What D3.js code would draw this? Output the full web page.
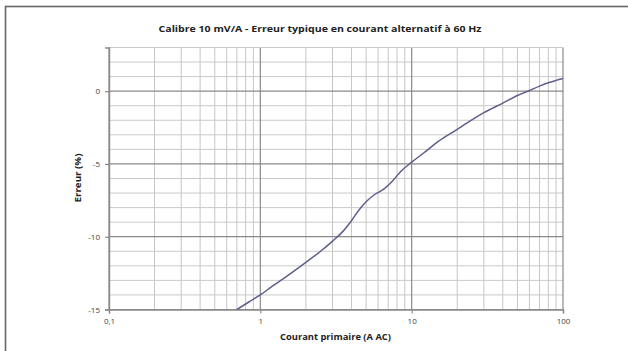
<!DOCTYPE html>
<html>
<head>
<meta charset="utf-8">
<script src="https://cdn.jsdelivr.net/npm/d3@7"></script>
<style>
html,body{margin:0;padding:0;background:#fff;}
svg{display:block;}
</style>
</head>
<body>
<svg id="chart" width="628" height="351"></svg>
<script>
// Data
const current = [0.7, 0.85, 1, 1.2, 1.5, 2, 2.5, 3, 3.5, 4, 4.5, 5, 5.7, 6.5, 7.5, 8.5, 10, 12, 15, 20, 25, 30, 40, 50, 60, 70, 80, 90, 100];
const errorPct = [-15, -14.45, -14.0, -13.4, -12.7, -11.76, -11.0, -10.3, -9.65, -8.9, -8.15, -7.6, -7.1, -6.75, -6.15, -5.5, -4.88, -4.25, -3.45, -2.62, -1.97, -1.48, -0.82, -0.3, 0.05, 0.35, 0.58, 0.74, 0.87];
const xTickValues = [0.1, 1, 10, 100];
const xTickLabels = ["0,1", "1", "10", "100"];
const yTickValues = [0, -5, -10, -15];
const yTickLabels = ["0", "-5", "-10", "-15"];
const titleText = "Calibre 10 mV/A - Erreur typique en courant alternatif à 60 Hz";
const xTitle = "Courant primaire (A AC)";
const yTitle = "Erreur (%)";

const svg = d3.select("#chart");
const font = "'Open Sans', 'Liberation Sans', sans-serif";

// outer chart border (extends past the window)
svg.append("rect").attr("x", 5.5).attr("y", 6.5).attr("width", 640).attr("height", 360)
  .attr("fill", "none").attr("stroke", "#666").attr("stroke-width", 1.6);

const L = 109, R = 563, T = 47.5, B = 309.5;
const x = d3.scaleLog().domain([0.1, 100]).range([L, R]);
const y = d3.scaleLinear().domain([-15, 3]).range([B, T]);

const g = svg.append("g");

// minor vertical gridlines
const minorX = [];
for (let d = 0.1; d < 100; d *= 10) for (let k = 2; k <= 9; k++) minorX.push(d * k);
g.selectAll(".mx").data(minorX).enter().append("line")
  .attr("x1", d => x(d)).attr("x2", d => x(d)).attr("y1", T).attr("y2", B)
  .attr("stroke", "#c6c6c6").attr("stroke-width", 1);
// minor horizontal gridlines
const minorY = d3.range(-14, 4, 1).filter(v => v % 5 !== 0);
g.selectAll(".my").data(minorY).enter().append("line")
  .attr("x1", L).attr("x2", R).attr("y1", d => y(d)).attr("y2", d => y(d))
  .attr("stroke", "#cacaca").attr("stroke-width", 1);
// major gridlines
g.selectAll(".MX").data(xTickValues).enter().append("line")
  .attr("x1", d => x(d)).attr("x2", d => x(d)).attr("y1", T).attr("y2", B)
  .attr("stroke", "#8a8a8a").attr("stroke-width", 1.2);
g.selectAll(".MY").data(yTickValues).enter().append("line")
  .attr("x1", L).attr("x2", R).attr("y1", d => y(d)).attr("y2", d => y(d))
  .attr("stroke", "#8a8a8a").attr("stroke-width", 1.2);
g.append("line").attr("x1", L).attr("x2", R).attr("y1", T).attr("y2", T)
  .attr("stroke", "#cacaca").attr("stroke-width", 1);

// axes
const xAxis = d3.axisBottom(x).tickValues(xTickValues)
  .tickFormat((d, i) => xTickLabels[i]).tickSize(4).tickPadding(5);
const yAxis = d3.axisLeft(y).tickValues(yTickValues)
  .tickFormat((d, i) => yTickLabels[i]).tickSize(4).tickPadding(5);
const gx = svg.append("g").attr("transform", `translate(0,${B})`).call(xAxis);
const gy = svg.append("g").attr("transform", `translate(${L},0)`).call(yAxis);
[gx, gy].forEach(a => {
  a.select(".domain").attr("stroke", "#8a8a8a").attr("stroke-width", 1.4);
  a.selectAll(".tick line").attr("stroke", "#8a8a8a").attr("stroke-width", 1.2);
  a.selectAll("text").attr("font-family", font).attr("font-size", 8).attr("fill", "#444");
});

// curve
const line = d3.line().x((d, i) => x(current[i])).y(d => y(d)).curve(d3.curveMonotoneX);
svg.append("path").datum(errorPct).attr("d", line)
  .attr("fill", "none").attr("stroke", "#5e5e8c").attr("stroke-width", 1.5);

// titles
svg.append("text").attr("x", 320).attr("y", 32).attr("text-anchor", "middle")
  .attr("font-family", font).attr("font-weight", "bold").attr("font-size", 9.5)
  .attr("fill", "#222").attr("textLength", 323).attr("lengthAdjust", "spacingAndGlyphs")
  .text(titleText);
svg.append("text").attr("x", 335.5).attr("y", 340).attr("text-anchor", "middle")
  .attr("font-family", font).attr("font-weight", "bold").attr("font-size", 8.5)
  .attr("fill", "#222").attr("textLength", 111).attr("lengthAdjust", "spacingAndGlyphs")
  .text(xTitle);
svg.append("text").attr("transform", "translate(81,178) rotate(-90)").attr("text-anchor", "middle")
  .attr("font-family", font).attr("font-weight", "bold").attr("font-size", 8.5)
  .attr("fill", "#222").attr("textLength", 49).attr("lengthAdjust", "spacingAndGlyphs")
  .text(yTitle);
</script>
</body>
</html>
